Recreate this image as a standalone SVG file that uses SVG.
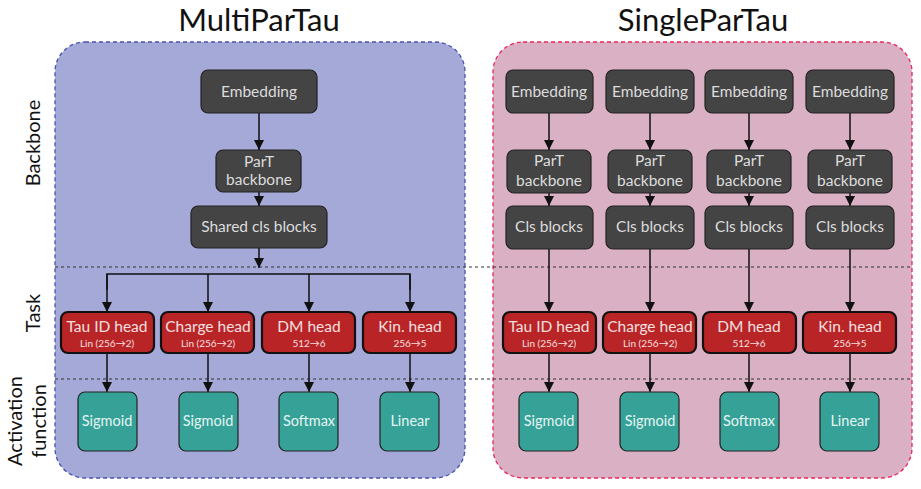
<svg xmlns="http://www.w3.org/2000/svg" width="921" height="489" viewBox="0 0 921 489">
<defs>
<marker id="ah" viewBox="0 0 10 10" refX="10" refY="5" markerWidth="7" markerHeight="7" orient="auto"><path d="M0,0 L10,5 L0,10 z" fill="#111"/></marker>
<style>
text{font-family:Lato,"Open Sans",sans-serif;text-anchor:middle}
.dk{fill:#444;stroke:#222;stroke-width:1.2}
.rd{fill:#b92426;stroke:#111;stroke-width:2.2}
.tl{fill:#36a197;stroke:#222;stroke-width:1.2}
.td{fill:#dcdcdc;font-size:15.5px}
.tr{fill:#f4e0e0;font-size:15.5px}
.ts{fill:#f4e0e0;font-size:10px}
.tt{fill:#e4f4f2;font-size:14.5px}
.c{stroke:#111;stroke-width:1.5;fill:none}
.a{marker-end:url(#ah)}
.lab{font-size:20px;fill:#111}
.title{font-size:31px;fill:#111}
</style>
</defs>
<rect width="921" height="489" fill="#fff"/>
<rect x="55" y="42" width="410" height="436" rx="30" fill="#a5a9d8" stroke="#4a51b0" stroke-width="1.3" stroke-dasharray="4,3"/>
<rect x="493" y="42" width="419" height="436" rx="30" fill="#dab0c4" stroke="#e8265a" stroke-width="1.3" stroke-dasharray="4,3"/>
<text class="title" x="259" y="31">MultiParTau</text>
<text class="title" x="703" y="31">SingleParTau</text>
<line x1="55" y1="267" x2="912" y2="267" stroke="#333" stroke-width="1" stroke-dasharray="3,3"/>
<line x1="55" y1="379" x2="912" y2="379" stroke="#333" stroke-width="1" stroke-dasharray="3,3"/>
<text class="lab" transform="translate(40,143) rotate(-90)">Backbone</text>
<text class="lab" transform="translate(40,313) rotate(-90)">Task</text>
<text class="lab" transform="translate(22,421) rotate(-90)">Activation</text>
<text class="lab" transform="translate(46,421) rotate(-90)">function</text>

<g id="connectors">
<path class="c a" d="M259,113 V150"/>
<path class="c a" d="M259,192 V206"/>
<path class="c a" d="M259,248 V268"/>
<path class="c" d="M107,290 V274 H410 V290"/>
<path class="c a" d="M107,274 V312"/><path class="c a" d="M208,274 V312"/><path class="c a" d="M309,274 V312"/><path class="c a" d="M410,274 V312"/>
<path class="c a" d="M107,353 V392"/><path class="c a" d="M208,353 V392"/><path class="c a" d="M309,353 V392"/><path class="c a" d="M410,353 V392"/>
<path class="c a" d="M549,113 V150"/><path class="c a" d="M650,113 V150"/><path class="c a" d="M749,113 V150"/><path class="c a" d="M850,113 V150"/>
<path class="c a" d="M549,193 V206"/><path class="c a" d="M650,193 V206"/><path class="c a" d="M749,193 V206"/><path class="c a" d="M850,193 V206"/>
<path class="c a" d="M549,249 V312"/><path class="c a" d="M650,249 V312"/><path class="c a" d="M749,249 V312"/><path class="c a" d="M850,249 V312"/>
<path class="c a" d="M549,353 V392"/><path class="c a" d="M650,353 V392"/><path class="c a" d="M749,353 V392"/><path class="c a" d="M850,353 V392"/>
</g>

<g id="m-emb"><rect class="dk" x="201" y="70" width="116" height="43" rx="7"/><text class="td" x="259" y="97">Embedding</text></g>
<g id="m-part"><rect class="dk" x="216" y="150" width="85" height="42" rx="7"/><text class="td" x="259" y="167">ParT</text><text class="td" x="259" y="185">backbone</text></g>
<g id="m-cls"><rect class="dk" x="191" y="206" width="136" height="42" rx="7"/><text class="td" x="259" y="232">Shared cls blocks</text></g>

<g id="m-h1"><rect class="rd" x="61" y="312" width="93" height="41" rx="7"/><text class="tr" x="107" y="332">Tau ID head</text><text class="ts" x="107" y="347">Lin (256→2)</text></g>
<g id="m-h2"><rect class="rd" x="161" y="312" width="93" height="41" rx="7"/><text class="tr" x="208" y="332">Charge head</text><text class="ts" x="208" y="347">Lin (256→2)</text></g>
<g id="m-h3"><rect class="rd" x="262" y="312" width="93" height="41" rx="7"/><text class="tr" x="309" y="332">DM head</text><text class="ts" x="309" y="347">512→6</text></g>
<g id="m-h4"><rect class="rd" x="363" y="312" width="93" height="41" rx="7"/><text class="tr" x="410" y="332">Kin. head</text><text class="ts" x="410" y="347">256→5</text></g>

<g id="m-a1"><rect class="tl" x="78" y="392" width="59" height="59" rx="7"/><text class="tt" x="107" y="426">Sigmoid</text></g>
<g id="m-a2"><rect class="tl" x="179" y="392" width="59" height="59" rx="7"/><text class="tt" x="208" y="426">Sigmoid</text></g>
<g id="m-a3"><rect class="tl" x="279" y="392" width="59" height="59" rx="7"/><text class="tt" x="309" y="426">Softmax</text></g>
<g id="m-a4"><rect class="tl" x="380" y="392" width="59" height="59" rx="7"/><text class="tt" x="410" y="426">Linear</text></g>

<g id="s-emb1"><rect class="dk" x="506" y="70" width="87" height="43" rx="7"/><text class="td" x="549" y="97">Embedding</text></g>
<g id="s-emb2"><rect class="dk" x="606" y="70" width="88" height="43" rx="7"/><text class="td" x="650" y="97">Embedding</text></g>
<g id="s-emb3"><rect class="dk" x="705" y="70" width="88" height="43" rx="7"/><text class="td" x="749" y="97">Embedding</text></g>
<g id="s-emb4"><rect class="dk" x="806" y="70" width="88" height="43" rx="7"/><text class="td" x="850" y="97">Embedding</text></g>

<g id="s-part1"><rect class="dk" x="507" y="150" width="84" height="43" rx="7"/><text class="td" x="549" y="166">ParT</text><text class="td" x="549" y="186">backbone</text></g>
<g id="s-part2"><rect class="dk" x="608" y="150" width="84" height="43" rx="7"/><text class="td" x="650" y="166">ParT</text><text class="td" x="650" y="186">backbone</text></g>
<g id="s-part3"><rect class="dk" x="707" y="150" width="84" height="43" rx="7"/><text class="td" x="749" y="166">ParT</text><text class="td" x="749" y="186">backbone</text></g>
<g id="s-part4"><rect class="dk" x="808" y="150" width="84" height="43" rx="7"/><text class="td" x="850" y="166">ParT</text><text class="td" x="850" y="186">backbone</text></g>

<g id="s-cls1"><rect class="dk" x="506" y="206" width="87" height="43" rx="7"/><text class="td" x="549" y="232">Cls blocks</text></g>
<g id="s-cls2"><rect class="dk" x="606" y="206" width="88" height="43" rx="7"/><text class="td" x="650" y="232">Cls blocks</text></g>
<g id="s-cls3"><rect class="dk" x="705" y="206" width="88" height="43" rx="7"/><text class="td" x="749" y="232">Cls blocks</text></g>
<g id="s-cls4"><rect class="dk" x="806" y="206" width="88" height="43" rx="7"/><text class="td" x="850" y="232">Cls blocks</text></g>

<g id="s-h1"><rect class="rd" x="503" y="312" width="93" height="41" rx="7"/><text class="tr" x="549" y="332">Tau ID head</text><text class="ts" x="549" y="347">Lin (256→2)</text></g>
<g id="s-h2"><rect class="rd" x="603" y="312" width="93" height="41" rx="7"/><text class="tr" x="650" y="332">Charge head</text><text class="ts" x="650" y="347">Lin (256→2)</text></g>
<g id="s-h3"><rect class="rd" x="703" y="312" width="93" height="41" rx="7"/><text class="tr" x="749" y="332">DM head</text><text class="ts" x="749" y="347">512→6</text></g>
<g id="s-h4"><rect class="rd" x="803" y="312" width="93" height="41" rx="7"/><text class="tr" x="850" y="332">Kin. head</text><text class="ts" x="850" y="347">256→5</text></g>

<g id="s-a1"><rect class="tl" x="519" y="392" width="59" height="59" rx="7"/><text class="tt" x="549" y="426">Sigmoid</text></g>
<g id="s-a2"><rect class="tl" x="620" y="392" width="59" height="59" rx="7"/><text class="tt" x="650" y="426">Sigmoid</text></g>
<g id="s-a3"><rect class="tl" x="720" y="392" width="59" height="59" rx="7"/><text class="tt" x="749" y="426">Softmax</text></g>
<g id="s-a4"><rect class="tl" x="820" y="392" width="59" height="59" rx="7"/><text class="tt" x="850" y="426">Linear</text></g>
</svg>
